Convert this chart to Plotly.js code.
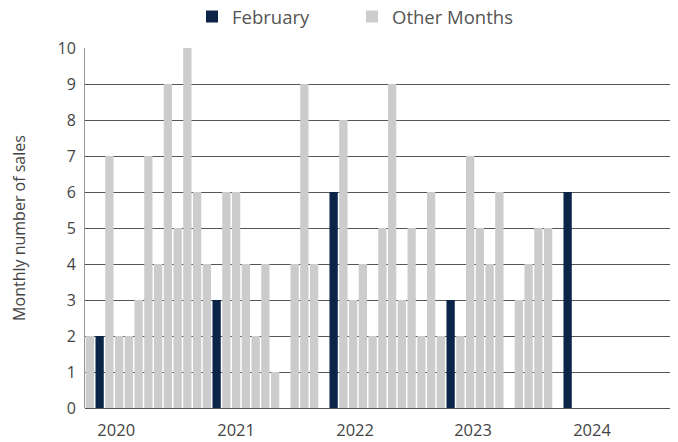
<!DOCTYPE html>
<html>
<head>
<meta charset="utf-8">
<script src="https://cdn.plot.ly/plotly-3.0.1.min.js"></script>
<style>html,body{margin:0;padding:0;background:#fff;}#chart{width:678px;height:442px;}</style>
</head>
<body>
<div id="chart"></div>
<script>
const months = [
  "Jan 2020","Feb 2020","Mar 2020","Apr 2020","May 2020","Jun 2020","Jul 2020","Aug 2020","Sep 2020","Oct 2020","Nov 2020","Dec 2020",
  "Jan 2021","Feb 2021","Mar 2021","Apr 2021","May 2021","Jun 2021","Jul 2021","Aug 2021","Sep 2021","Oct 2021","Nov 2021","Dec 2021",
  "Jan 2022","Feb 2022","Mar 2022","Apr 2022","May 2022","Jun 2022","Jul 2022","Aug 2022","Sep 2022","Oct 2022","Nov 2022","Dec 2022",
  "Jan 2023","Feb 2023","Mar 2023","Apr 2023","May 2023","Jun 2023","Jul 2023","Aug 2023","Sep 2023","Oct 2023","Nov 2023","Dec 2023",
  "Jan 2024","Feb 2024","Mar 2024","Apr 2024","May 2024","Jun 2024","Jul 2024","Aug 2024","Sep 2024","Oct 2024","Nov 2024","Dec 2024"
];
const sales = [
  2,2,7,2,2,3,7,4,9,5,10,6,
  4,3,6,6,4,2,4,1,0,4,9,4,
  0,6,8,3,4,2,5,9,3,5,2,6,
  2,3,2,7,5,4,6,0,3,4,5,5,
  0,6,null,null,null,null,null,null,null,null,null,null
];
const yearLabels = ["2020","2021","2022","2023","2024"];
const yearLabelPos = [2.7, 15.0, 27.2, 39.3, 51.5];

const idx = months.map((m, i) => i);
const isFeb = months.map(m => m.startsWith("Feb"));
const febVals = sales.map((v, i) => isFeb[i] ? v : null);
const otherVals = sales.map((v, i) => isFeb[i] ? null : v);

const font = "'Open Sans', 'DejaVu Sans', sans-serif";
const traces = [
  {type: "bar", name: "February", x: idx, y: febVals, width: 0.85,
   marker: {color: "#0b2548"}, hovertext: months, legend: "legend"},
  {type: "bar", name: "Other Months", x: idx, y: otherVals, width: 0.85,
   marker: {color: "#cccccc"}, hovertext: months, legend: "legend2"}
];
const legendBase = {orientation: "h", xref: "container", yref: "container",
  xanchor: "left", y: 1 - 17/442, yanchor: "middle", bgcolor: "rgba(0,0,0,0)",
  font: {family: font, size: 18.5, color: "#555"}};
const layout = {
  width: 678, height: 442,
  margin: {l: 85, r: 8, t: 48, b: 34, autoexpand: false},
  paper_bgcolor: "#fff", plot_bgcolor: "#fff",
  barmode: "overlay",
  showlegend: true,
  legend: Object.assign({}, legendBase, {x: 192/678}),
  legend2: Object.assign({}, legendBase, {x: 352/678}),
  xaxis: {range: [-0.5, 59.5], tickvals: yearLabelPos, ticktext: yearLabels,
          showgrid: false, zeroline: false, showline: false,
          ticks: "outside", ticklen: 7, tickcolor: "rgba(0,0,0,0)",
          tickfont: {family: font, size: 16.5, color: "#444"}},
  yaxis: {range: [0, 10], dtick: 1, showgrid: true, gridcolor: "#555", gridwidth: 1,
          zeroline: true, zerolinecolor: "#555", zerolinewidth: 1,
          showline: true, linecolor: "#999",
          ticks: "outside", ticklen: 5, tickcolor: "rgba(0,0,0,0)",
          tickfont: {family: font, size: 16, color: "#444"},
          title: {text: "Monthly number of sales", font: {family: font, size: 16, color: "#444"}, standoff: 27}},
  font: {family: font}
};
Plotly.newPlot("chart", traces, layout, {displayModeBar: false, staticPlot: true});
</script>
</body>
</html>
